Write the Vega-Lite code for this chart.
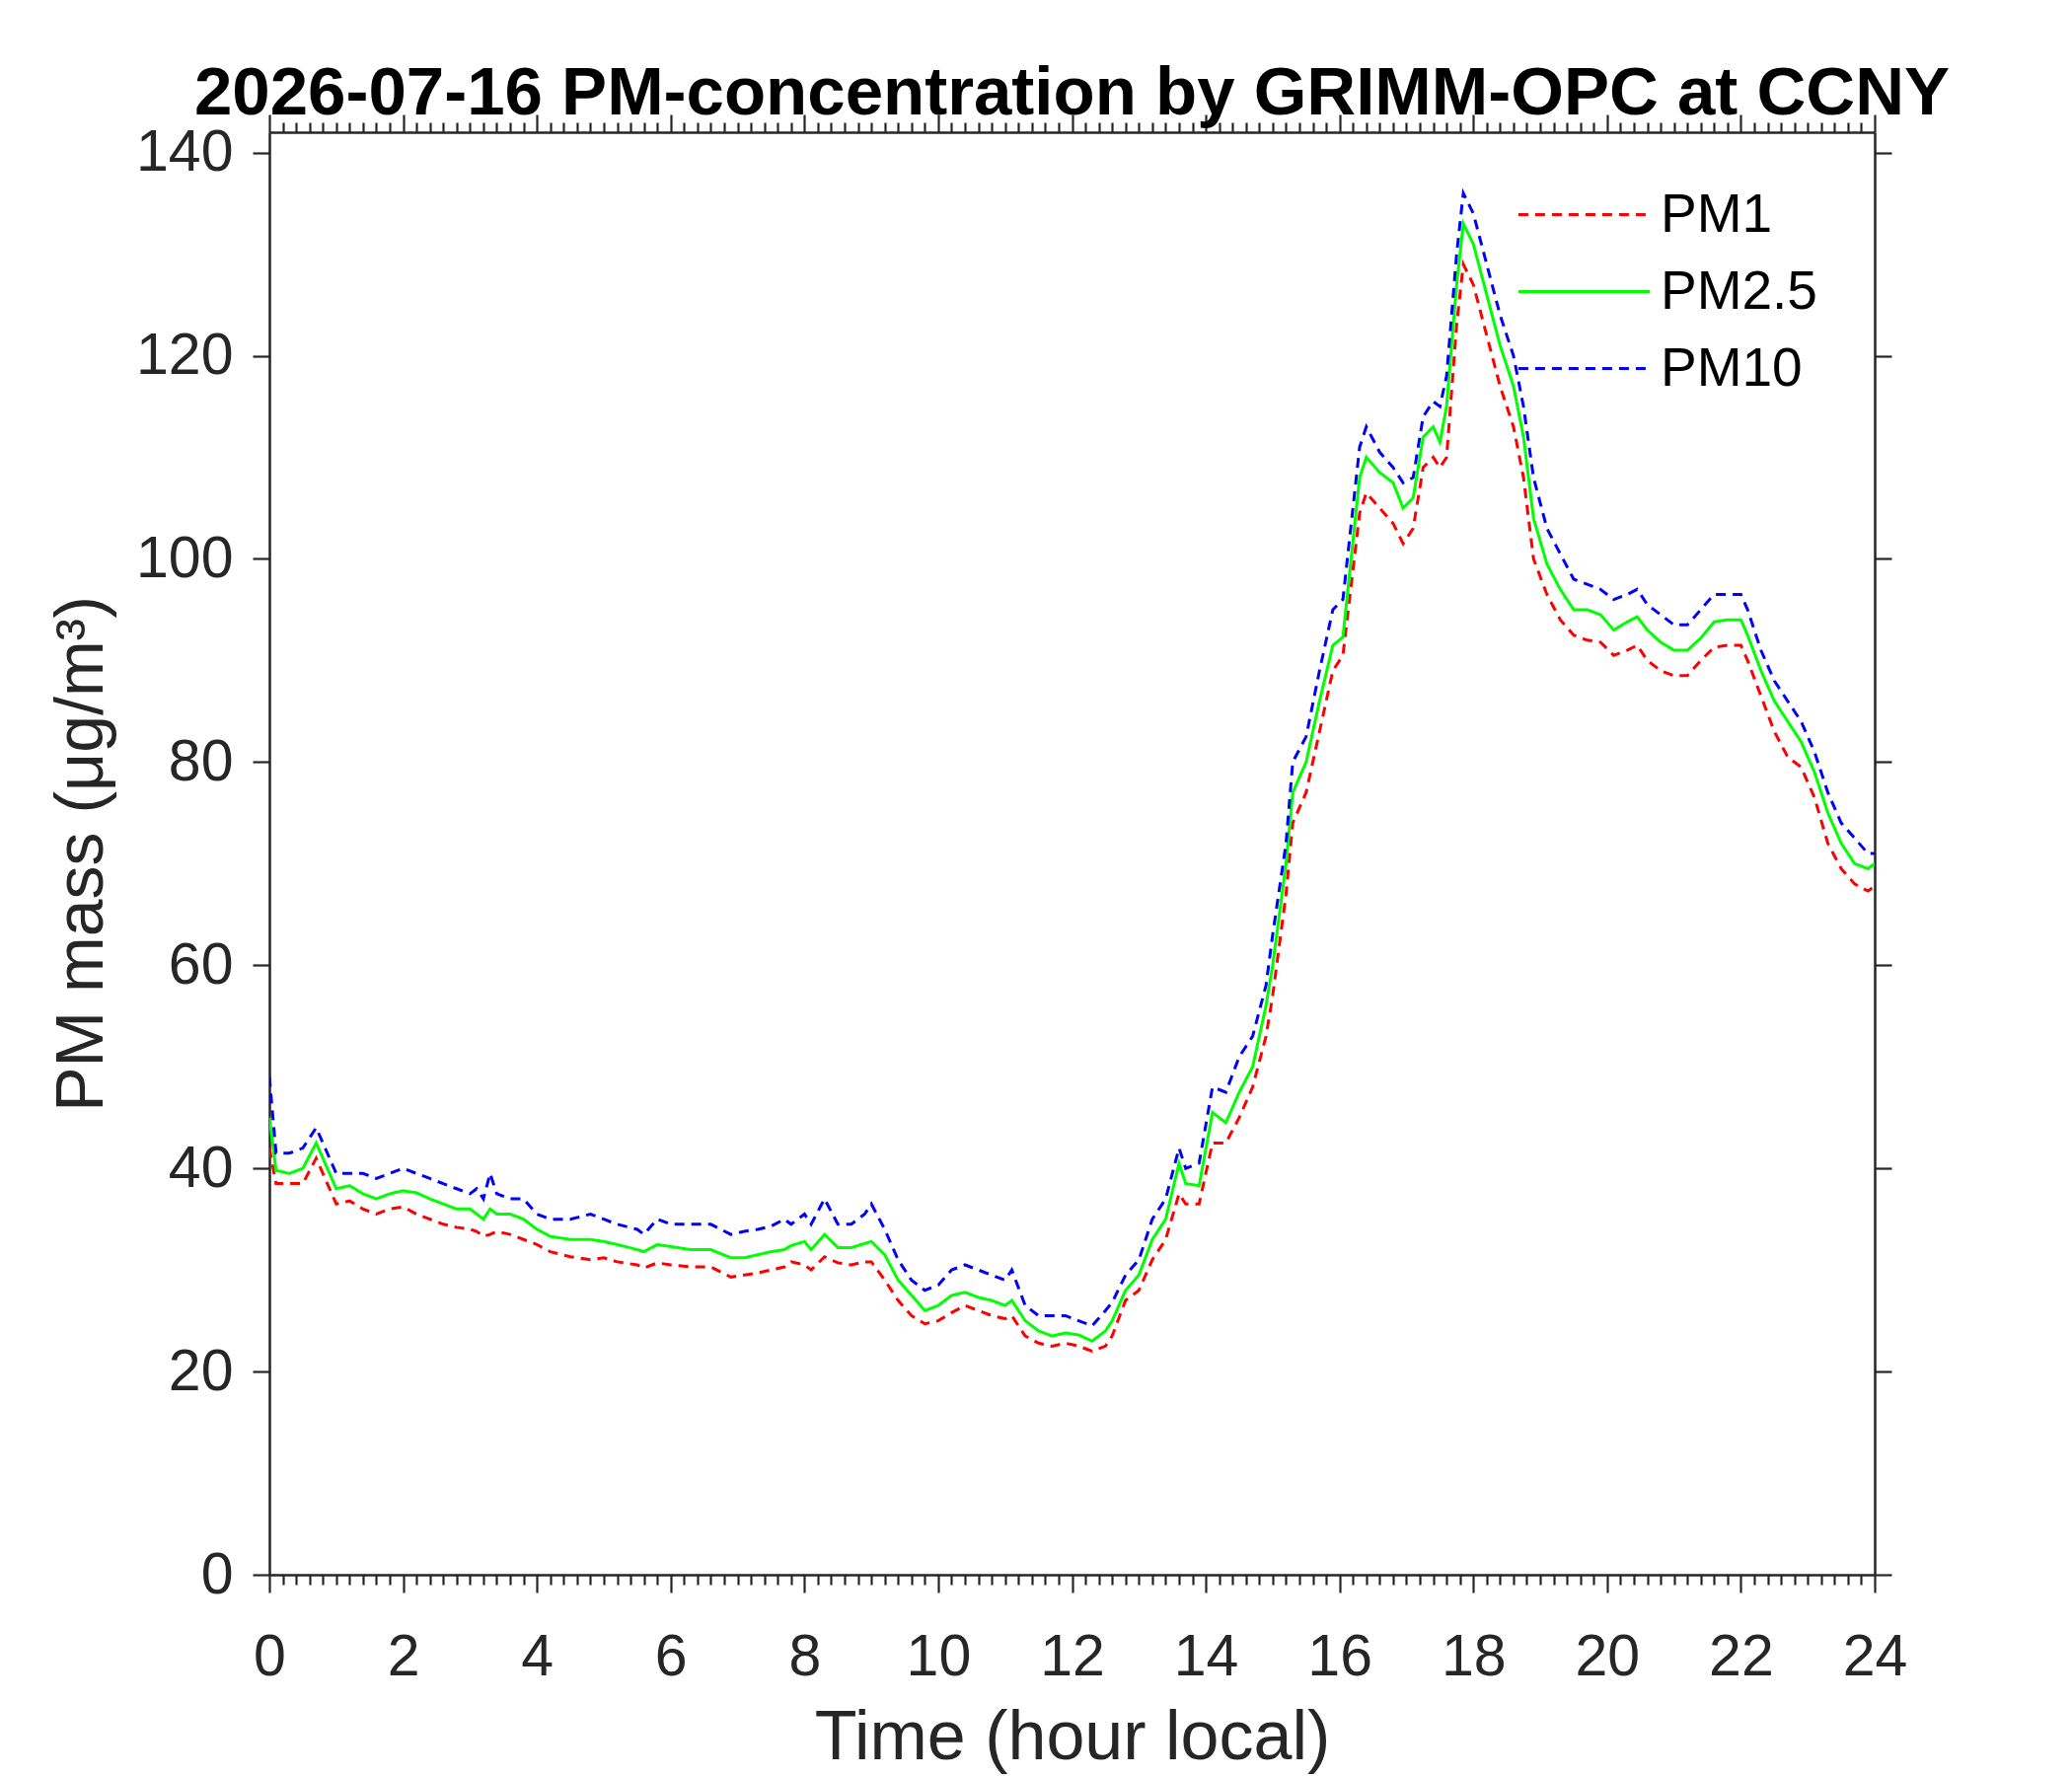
{
  "$schema": "https://vega.github.io/schema/vega-lite/v6.json",
  "description": "PM concentration by GRIMM-OPC at CCNY",
  "autosize": "none",
  "padding": {"left": 273, "top": 134, "right": 200, "bottom": 204},
  "width": 1627,
  "height": 1462,
  "background": "white",
  "title": {
    "text": "2026-07-16 PM-concentration by GRIMM-OPC at CCNY",
    "font": "Liberation Sans",
    "fontSize": 69,
    "fontWeight": "bold",
    "color": "black",
    "anchor": "middle",
    "frame": "group",
    "offset": -15
  },
  "data": {
    "values": [
      {"h": 0, "pm1": 42, "pm25": 45, "pm10": 49},
      {"h": 0.1, "pm1": 38.5, "pm25": 39.8, "pm10": 41.5},
      {"h": 0.3, "pm1": 38.5, "pm25": 39.5, "pm10": 41.5},
      {"h": 0.5, "pm1": 38.5, "pm25": 40, "pm10": 42},
      {"h": 0.7, "pm1": 41, "pm25": 42.5, "pm10": 44},
      {"h": 0.9, "pm1": 38, "pm25": 39.5, "pm10": 41},
      {"h": 1.0, "pm1": 36.5, "pm25": 38, "pm10": 39.5},
      {"h": 1.2, "pm1": 36.8, "pm25": 38.3, "pm10": 39.5},
      {"h": 1.4, "pm1": 36, "pm25": 37.5, "pm10": 39.5},
      {"h": 1.6, "pm1": 35.5, "pm25": 37, "pm10": 39},
      {"h": 1.8, "pm1": 36, "pm25": 37.5, "pm10": 39.5},
      {"h": 2.0, "pm1": 36.2, "pm25": 37.8, "pm10": 40},
      {"h": 2.2, "pm1": 35.5, "pm25": 37.6, "pm10": 39.5},
      {"h": 2.4, "pm1": 35, "pm25": 37, "pm10": 39},
      {"h": 2.6, "pm1": 34.5, "pm25": 36.5, "pm10": 38.5},
      {"h": 2.8, "pm1": 34.2, "pm25": 36, "pm10": 38},
      {"h": 3.0, "pm1": 34, "pm25": 36, "pm10": 37.5},
      {"h": 3.1, "pm1": 33.8, "pm25": 35.5, "pm10": 38},
      {"h": 3.2, "pm1": 33.3, "pm25": 35, "pm10": 37},
      {"h": 3.3, "pm1": 33.5, "pm25": 36, "pm10": 39.5},
      {"h": 3.4, "pm1": 33.8, "pm25": 35.5, "pm10": 37.5},
      {"h": 3.6, "pm1": 33.5, "pm25": 35.5, "pm10": 37},
      {"h": 3.8, "pm1": 33, "pm25": 35, "pm10": 37},
      {"h": 4.0, "pm1": 32.5, "pm25": 34, "pm10": 35.5},
      {"h": 4.2, "pm1": 31.8, "pm25": 33.3, "pm10": 35},
      {"h": 4.5, "pm1": 31.3, "pm25": 33, "pm10": 35},
      {"h": 4.8, "pm1": 31, "pm25": 33, "pm10": 35.5},
      {"h": 5.0, "pm1": 31.2, "pm25": 32.8, "pm10": 35},
      {"h": 5.2, "pm1": 30.8, "pm25": 32.5, "pm10": 34.5},
      {"h": 5.5, "pm1": 30.5, "pm25": 32, "pm10": 34},
      {"h": 5.6, "pm1": 30.2, "pm25": 31.8, "pm10": 33.5},
      {"h": 5.8, "pm1": 30.7, "pm25": 32.5, "pm10": 35},
      {"h": 6.0, "pm1": 30.5, "pm25": 32.3, "pm10": 34.5},
      {"h": 6.3, "pm1": 30.3, "pm25": 32, "pm10": 34.5},
      {"h": 6.6, "pm1": 30.3, "pm25": 32, "pm10": 34.5},
      {"h": 6.9, "pm1": 29.3, "pm25": 31.2, "pm10": 33.5},
      {"h": 7.1, "pm1": 29.5, "pm25": 31.2, "pm10": 33.8},
      {"h": 7.3, "pm1": 29.7, "pm25": 31.5, "pm10": 34},
      {"h": 7.5, "pm1": 30, "pm25": 31.8, "pm10": 34.3},
      {"h": 7.7, "pm1": 30.3, "pm25": 32, "pm10": 35},
      {"h": 7.8, "pm1": 30.8, "pm25": 32.4, "pm10": 34.5},
      {"h": 8.0, "pm1": 30.5, "pm25": 32.8, "pm10": 35.5},
      {"h": 8.1, "pm1": 30, "pm25": 32, "pm10": 34.5},
      {"h": 8.3, "pm1": 31.3, "pm25": 33.5, "pm10": 37},
      {"h": 8.5, "pm1": 30.7, "pm25": 32.2, "pm10": 34.5},
      {"h": 8.7, "pm1": 30.5, "pm25": 32.2, "pm10": 34.5},
      {"h": 8.9, "pm1": 30.8, "pm25": 32.6, "pm10": 35.5},
      {"h": 9.0, "pm1": 30.8, "pm25": 32.8, "pm10": 36.5},
      {"h": 9.2, "pm1": 29, "pm25": 31.5, "pm10": 34},
      {"h": 9.4, "pm1": 27, "pm25": 29, "pm10": 31},
      {"h": 9.6, "pm1": 25.5, "pm25": 27.5, "pm10": 29},
      {"h": 9.8, "pm1": 24.7, "pm25": 26, "pm10": 28},
      {"h": 10.0, "pm1": 25, "pm25": 26.5, "pm10": 28.5},
      {"h": 10.2, "pm1": 25.8, "pm25": 27.5, "pm10": 30},
      {"h": 10.4, "pm1": 26.5, "pm25": 27.8, "pm10": 30.5},
      {"h": 10.6, "pm1": 26, "pm25": 27.3, "pm10": 30},
      {"h": 10.8, "pm1": 25.5, "pm25": 27, "pm10": 29.5},
      {"h": 11.0, "pm1": 25.2, "pm25": 26.5, "pm10": 29},
      {"h": 11.1, "pm1": 25.5, "pm25": 27, "pm10": 30},
      {"h": 11.3, "pm1": 23.5, "pm25": 25, "pm10": 26.5},
      {"h": 11.5, "pm1": 22.8, "pm25": 24, "pm10": 25.5},
      {"h": 11.7, "pm1": 22.5, "pm25": 23.5, "pm10": 25.5},
      {"h": 11.9, "pm1": 22.8, "pm25": 23.8, "pm10": 25.5},
      {"h": 12.1, "pm1": 22.5, "pm25": 23.6, "pm10": 25},
      {"h": 12.3, "pm1": 22, "pm25": 23, "pm10": 24.5},
      {"h": 12.5, "pm1": 22.5, "pm25": 24, "pm10": 26},
      {"h": 12.6, "pm1": 23.5, "pm25": 25, "pm10": 26.8},
      {"h": 12.8, "pm1": 27, "pm25": 28, "pm10": 29.5},
      {"h": 13.0, "pm1": 28, "pm25": 29.5, "pm10": 31},
      {"h": 13.2, "pm1": 31, "pm25": 33, "pm10": 35},
      {"h": 13.4, "pm1": 33, "pm25": 35, "pm10": 37},
      {"h": 13.6, "pm1": 37.5, "pm25": 40.5, "pm10": 42},
      {"h": 13.7, "pm1": 36.5, "pm25": 38.5, "pm10": 40},
      {"h": 13.9, "pm1": 36.5, "pm25": 38.3, "pm10": 40.5},
      {"h": 14.1, "pm1": 42.5, "pm25": 45.5, "pm10": 48},
      {"h": 14.3, "pm1": 42.5, "pm25": 44.5, "pm10": 47.5},
      {"h": 14.5, "pm1": 45, "pm25": 47.5, "pm10": 51},
      {"h": 14.7, "pm1": 48, "pm25": 50, "pm10": 53},
      {"h": 14.9, "pm1": 53, "pm25": 56, "pm10": 58},
      {"h": 15.0, "pm1": 57, "pm25": 60, "pm10": 63},
      {"h": 15.2, "pm1": 67, "pm25": 70, "pm10": 72},
      {"h": 15.3, "pm1": 74, "pm25": 77, "pm10": 80},
      {"h": 15.5, "pm1": 77, "pm25": 80, "pm10": 82.5},
      {"h": 15.7, "pm1": 83, "pm25": 86, "pm10": 89},
      {"h": 15.9, "pm1": 89, "pm25": 91.5, "pm10": 95},
      {"h": 16.05, "pm1": 90.5, "pm25": 92.3, "pm10": 96},
      {"h": 16.3, "pm1": 104.5, "pm25": 108, "pm10": 111},
      {"h": 16.4, "pm1": 106.5, "pm25": 110, "pm10": 113},
      {"h": 16.6, "pm1": 105, "pm25": 108.5, "pm10": 110.5},
      {"h": 16.8, "pm1": 103.5, "pm25": 107.5, "pm10": 109},
      {"h": 16.95, "pm1": 101.5, "pm25": 105, "pm10": 107.5},
      {"h": 17.1, "pm1": 103, "pm25": 106, "pm10": 108},
      {"h": 17.25, "pm1": 109, "pm25": 112, "pm10": 114},
      {"h": 17.4, "pm1": 110, "pm25": 113, "pm10": 115.5},
      {"h": 17.5, "pm1": 109, "pm25": 111.5, "pm10": 115},
      {"h": 17.6, "pm1": 110, "pm25": 115, "pm10": 118},
      {"h": 17.75, "pm1": 123, "pm25": 127, "pm10": 130},
      {"h": 17.85, "pm1": 129, "pm25": 133, "pm10": 136},
      {"h": 18.0, "pm1": 127, "pm25": 131, "pm10": 134},
      {"h": 18.2, "pm1": 122, "pm25": 126, "pm10": 129},
      {"h": 18.4, "pm1": 117, "pm25": 121, "pm10": 124},
      {"h": 18.6, "pm1": 113, "pm25": 117, "pm10": 120},
      {"h": 18.75, "pm1": 108, "pm25": 112, "pm10": 115},
      {"h": 18.9, "pm1": 100, "pm25": 104, "pm10": 108},
      {"h": 19.1, "pm1": 96.5, "pm25": 99.5, "pm10": 103},
      {"h": 19.3, "pm1": 94, "pm25": 97, "pm10": 100.5},
      {"h": 19.5, "pm1": 92.5, "pm25": 95, "pm10": 98},
      {"h": 19.7, "pm1": 92, "pm25": 95, "pm10": 97.5},
      {"h": 19.9, "pm1": 91.8, "pm25": 94.5, "pm10": 97},
      {"h": 20.1, "pm1": 90.5, "pm25": 93, "pm10": 96},
      {"h": 20.3, "pm1": 91, "pm25": 93.8, "pm10": 96.5},
      {"h": 20.45, "pm1": 91.5, "pm25": 94.3, "pm10": 97},
      {"h": 20.6, "pm1": 90, "pm25": 93, "pm10": 95.5},
      {"h": 20.8, "pm1": 89, "pm25": 91.8, "pm10": 94.5},
      {"h": 21.0, "pm1": 88.5, "pm25": 91, "pm10": 93.5},
      {"h": 21.2, "pm1": 88.5, "pm25": 91, "pm10": 93.5},
      {"h": 21.4, "pm1": 90, "pm25": 92.2, "pm10": 95},
      {"h": 21.6, "pm1": 91.3, "pm25": 93.8, "pm10": 96.5},
      {"h": 21.8, "pm1": 91.5, "pm25": 94, "pm10": 96.5},
      {"h": 22.0, "pm1": 91.5, "pm25": 94, "pm10": 96.5},
      {"h": 22.1, "pm1": 90, "pm25": 92.5, "pm10": 95},
      {"h": 22.3, "pm1": 86.5, "pm25": 89, "pm10": 91},
      {"h": 22.5, "pm1": 83, "pm25": 86, "pm10": 88},
      {"h": 22.7, "pm1": 80.5, "pm25": 84, "pm10": 86},
      {"h": 22.9, "pm1": 79.5, "pm25": 82, "pm10": 84},
      {"h": 23.1, "pm1": 76.5, "pm25": 79, "pm10": 81},
      {"h": 23.3, "pm1": 72, "pm25": 75, "pm10": 77},
      {"h": 23.5, "pm1": 69.5, "pm25": 72, "pm10": 74},
      {"h": 23.7, "pm1": 68, "pm25": 70, "pm10": 72.5},
      {"h": 23.9, "pm1": 67.3, "pm25": 69.5, "pm10": 71},
      {"h": 24.0, "pm1": 67.8, "pm25": 70, "pm10": 71}
    ]
  },
  "transform": [
    {"fold": ["pm1", "pm25", "pm10"], "as": ["series", "value"]}
  ],
  "layer": [
    {
      "mark": {"type": "line", "strokeWidth": 3, "clip": true},
      "encoding": {
        "x": {
          "field": "h",
          "type": "quantitative",
          "scale": {"domain": [0, 24], "nice": false, "zero": false},
          "axis": {
            "orient": "bottom",
            "title": "Time (hour local)",
            "values": [0,0.2,0.4,0.6,0.8,1,1.2,1.4,1.6,1.8,2,2.2,2.4,2.6,2.8,3,3.2,3.4,3.6,3.8,4,4.2,4.4,4.6,4.8,5,5.2,5.4,5.6,5.8,6,6.2,6.4,6.6,6.8,7,7.2,7.4,7.6,7.8,8,8.2,8.4,8.6,8.8,9,9.2,9.4,9.6,9.8,10,10.2,10.4,10.6,10.8,11,11.2,11.4,11.6,11.8,12,12.2,12.4,12.6,12.8,13,13.2,13.4,13.6,13.8,14,14.2,14.4,14.6,14.8,15,15.2,15.4,15.6,15.8,16,16.2,16.4,16.6,16.8,17,17.2,17.4,17.6,17.8,18,18.2,18.4,18.6,18.8,19,19.2,19.4,19.6,19.8,20,20.2,20.4,20.6,20.8,21,21.2,21.4,21.6,21.8,22,22.2,22.4,22.6,22.8,23,23.2,23.4,23.6,23.8,24],
            "labelExpr": "abs(datum.value / 2 - round(datum.value / 2)) < 0.001 ? format(datum.value, 'd') : ''",
            "tickSize": {"condition": {"test": "abs(datum.value / 2 - round(datum.value / 2)) < 0.001", "value": 18}, "value": 10},
            "labelPadding": 36,
            "titlePadding": 18,
            "titleFontSize": 70
          }
        },
        "y": {
          "field": "value",
          "type": "quantitative",
          "scale": {"domain": [0, 142], "nice": false},
          "axis": {
            "orient": "left",
            "title": "PM mass (μg/m³)",
            "values": [0, 20, 40, 60, 80, 100, 120, 140],
            "tickSize": 17,
            "labelPadding": 20,
            "titlePadding": 20,
            "titleFontSize": 68
          }
        },
        "color": {
          "field": "series",
          "type": "nominal",
          "scale": {"domain": ["pm1", "pm25", "pm10"], "range": ["#ff0000", "#00ff00", "#0000ff"]},
          "legend": {
            "title": null,
            "orient": "none",
            "legendX": 1305,
            "legendY": 56,
            "labelExpr": "{'pm1': 'PM1', 'pm25': 'PM2.5', 'pm10': 'PM10'}[datum.value]"
          }
        },
        "strokeDash": {
          "field": "series",
          "type": "nominal",
          "scale": {"domain": ["pm1", "pm25", "pm10"], "range": [[10, 7], [1, 0], [10, 7]]},
          "legend": {
            "title": null,
            "orient": "none",
            "legendX": 1305,
            "legendY": 56,
            "labelExpr": "{'pm1': 'PM1', 'pm25': 'PM2.5', 'pm10': 'PM10'}[datum.value]"
          }
        }
      }
    },
    {
      "mark": {"type": "line", "opacity": 0},
      "encoding": {
        "x": {
          "field": "h",
          "type": "quantitative",
          "axis": {
            "orient": "top",
            "title": null,
            "labels": false,
            "values": [0,0.2,0.4,0.6,0.8,1,1.2,1.4,1.6,1.8,2,2.2,2.4,2.6,2.8,3,3.2,3.4,3.6,3.8,4,4.2,4.4,4.6,4.8,5,5.2,5.4,5.6,5.8,6,6.2,6.4,6.6,6.8,7,7.2,7.4,7.6,7.8,8,8.2,8.4,8.6,8.8,9,9.2,9.4,9.6,9.8,10,10.2,10.4,10.6,10.8,11,11.2,11.4,11.6,11.8,12,12.2,12.4,12.6,12.8,13,13.2,13.4,13.6,13.8,14,14.2,14.4,14.6,14.8,15,15.2,15.4,15.6,15.8,16,16.2,16.4,16.6,16.8,17,17.2,17.4,17.6,17.8,18,18.2,18.4,18.6,18.8,19,19.2,19.4,19.6,19.8,20,20.2,20.4,20.6,20.8,21,21.2,21.4,21.6,21.8,22,22.2,22.4,22.6,22.8,23,23.2,23.4,23.6,23.8,24],
            "tickSize": {"condition": {"test": "abs(datum.value / 2 - round(datum.value / 2)) < 0.001", "value": 18}, "value": 10}
          }
        },
        "y": {
          "field": "value",
          "type": "quantitative",
          "axis": {
            "orient": "right",
            "title": null,
            "labels": false,
            "values": [0, 20, 40, 60, 80, 100, 120, 140],
            "tickSize": 17
          }
        }
      }
    }
  ],
  "resolve": {"axis": {"x": "independent", "y": "independent"}},
  "config": {
    "view": {"stroke": null},
    "font": "Liberation Sans",
    "axis": {
      "grid": false,
      "domainColor": "#262626",
      "domainWidth": 2.5,
      "tickColor": "#262626",
      "tickWidth": 2.2,
      "labelColor": "#262626",
      "labelFont": "Liberation Sans",
      "labelFontSize": 59,
      "labelOverlap": false,
      "labelFlush": false,
      "labelBound": false,
      "titleColor": "#262626",
      "titleFont": "Liberation Sans",
      "titleFontSize": 66,
      "titleFontWeight": "normal"
    },
    "legend": {
      "symbolType": "M-3.33,0H3.33",
      "symbolSize": 1600,
      "symbolStrokeWidth": 3,
      "symbolFillColor": "transparent",
      "labelFont": "Liberation Sans",
      "labelFontSize": 55,
      "labelColor": "black",
      "labelOffset": 50,
      "rowPadding": 22,
      "padding": 0,
      "labelLimit": 500
    }
  }
}
